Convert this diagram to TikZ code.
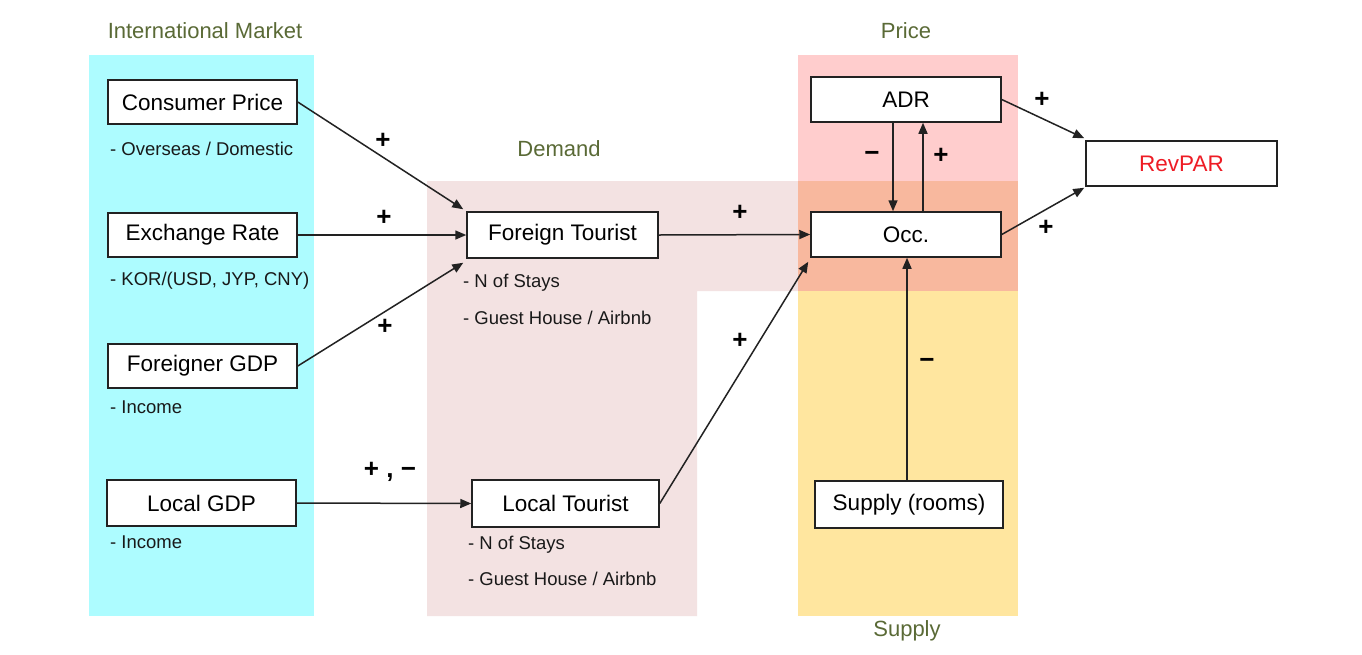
\documentclass[tikz,border=0pt]{standalone}
\usepackage{fontspec}
\setmainfont{Liberation Sans}
\usetikzlibrary{arrows.meta,calc}
\definecolor{cyanbg}{HTML}{ADFCFF}
\definecolor{demandbg}{HTML}{F3E2E2}
\definecolor{pricebg}{HTML}{FFCDCD}
\definecolor{overbg}{HTML}{F8B89E}
\definecolor{supplybg}{HTML}{FFE69F}
\definecolor{titlecol}{HTML}{5A6A36}
\definecolor{revred}{HTML}{EE1C25}
\definecolor{edge}{HTML}{222222}
\tikzset{
  box/.style={draw=edge,line width=1.5pt,fill=white,inner sep=0pt,font=\fontsize{22.5}{26}\selectfont},
  sub/.style={anchor=west,inner sep=0pt,font=\fontsize{18.5}{21}\selectfont,text=black!90},
  title/.style={inner sep=0pt,font=\fontsize{22}{26}\selectfont,text=titlecol},
  sign/.style={inner sep=0pt,font=\bfseries\fontsize{26}{28}\selectfont},
  conn/.style={draw=edge,line width=1.5pt,-{Triangle[length=11pt,width=9pt]}}
}
\begin{document}
\begin{tikzpicture}[x=1pt,y=-1pt]
\useasboundingbox (0,0) rectangle (1362,654);
\fill[white] (0,0) rectangle (1362,654);
% backgrounds
\fill[cyanbg] (89,55) rectangle (314,616);
\fill[demandbg] (427,181) -- (798,181) -- (798,291) -- (697,291) -- (697,616) -- (427,616) -- cycle;
\fill[pricebg] (798,55) rectangle (1018,181);
\fill[overbg] (798,181) rectangle (1018,291);
\fill[supplybg] (798,291) rectangle (1018,616);
% titles
\node[title] (tim) at (205,31) {International Market};
\node[title] (tdem) at (559,149) {Demand};
\node[title] (tpri) at (906,31) {Price};
\node[title] (tsup) at (907,631) {Supply};
% boxes
\node[box,minimum width=189pt,minimum height=44pt] (cp) at (202.5,102) {Consumer Price};
\node[box,minimum width=189pt,minimum height=44pt] (er) at (202.5,235) {Exchange Rate};
\node[box,minimum width=189pt,minimum height=44pt] (fg) at (202.5,366) {Foreigner GDP};
\node[box,minimum width=189pt,minimum height=46pt] (lg) at (201.5,503) {Local GDP};
\node[box,minimum width=191pt,minimum height=46pt] (ft) at (562.5,235) {Foreign Tourist};
\node[box,minimum width=187pt,minimum height=47pt] (lt) at (565.5,503.5) {Local Tourist};
\node[box,minimum width=190pt,minimum height=45pt] (adr) at (906,99.5) {ADR};
\node[box,minimum width=190pt,minimum height=45pt] (occ) at (906,234.5) {Occ.};
\node[box,minimum width=191pt,minimum height=45pt,text=revred] (rev) at (1181.5,163.5) {RevPAR};
\node[box,minimum width=188pt,minimum height=47pt] (sup) at (909,504.5) {Supply (rooms)};
% sub texts
\node[sub] (s1) at (110,149) {- Overseas / Domestic};
\node[sub] (s2) at (110,281) {- KOR/(USD, JYP, CNY)};
\node[sub] (s3) at (110,407) {- Income};
\node[sub] (s4) at (110,542) {- Income};
\node[sub] (s5) at (463,283) {- N of Stays};
\node[sub] (s6) at (463,318) {- Guest House / Airbnb};
\node[sub] (s7) at (468,545) {- N of Stays};
\node[sub] (s8) at (468,579) {- Guest House / Airbnb};
% connectors
\draw[conn] (cp.east) -- ([shift={(-3,-2)}]ft.north west);
\draw[conn] (er.east) -- (ft.west);
\draw[conn] (fg.east) -- ([shift={(-3,4)}]ft.south west);
\draw[conn] (lg.east) -- (lt.west);
\draw[conn] (ft.east) -- (occ.west);
\draw[conn] (lt.east) -- ([shift={(-2,4)}]occ.south west);
\draw[conn] ([xshift=-13pt]adr.south) -- ([xshift=-13pt]occ.north);
\draw[conn] ([xshift=17pt]occ.north) -- ([xshift=17pt]adr.south);
\draw[conn] ([xshift=-2pt]sup.north) -- ([xshift=-2pt]sup.north |- occ.south);
\draw[conn] (adr.east) -- ([shift={(-1,-2)}]rev.north west);
\draw[conn] (occ.east) -- ([shift={(-1,1)}]rev.south west);
% signs
\node[sign] (p1) at (383,141) {+};
\node[sign] (p2) at (384,218) {+};
\node[sign] (p3) at (385,327) {+};
\node[sign] (p4) at (390,472) {+ , −};
\node[sign] (p5) at (740,213) {+};
\node[sign] (p6) at (740,341) {+};
\node[sign] (m1) at (872,156) {−};
\node[sign] (p7) at (941,156) {+};
\node[sign] (m2) at (927,363) {−};
\node[sign] (p8) at (1042,100) {+};
\node[sign] (p9) at (1046,228) {+};
\end{tikzpicture}
\end{document}
